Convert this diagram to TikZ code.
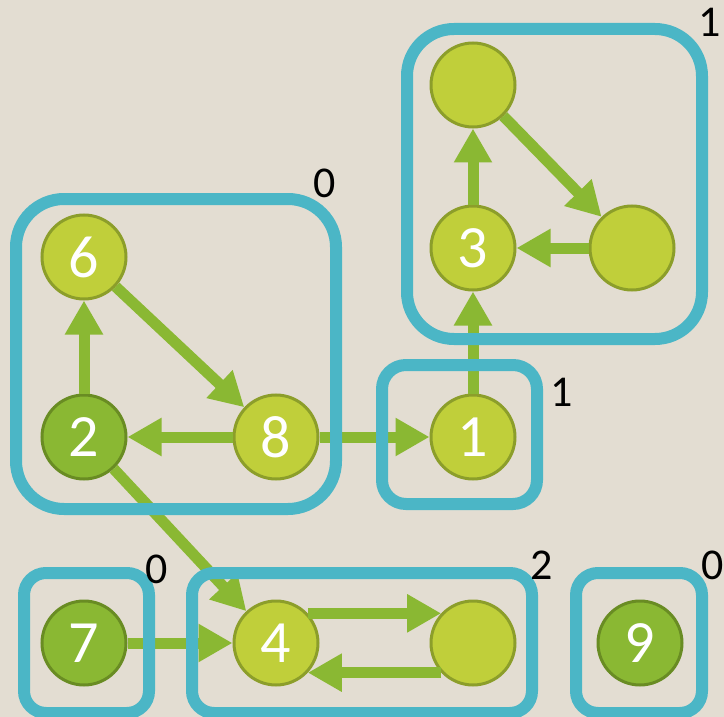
\documentclass[tikz,border=0pt]{standalone}
\usepackage{fontspec}
\setmainfont{Carlito}
\usetikzlibrary{arrows.meta,positioning}
\definecolor{bgbeige}{HTML}{E3DDD2}
\definecolor{boxcyan}{HTML}{4BB6C6}
\definecolor{lightleaf}{HTML}{C0CF3A}
\definecolor{lightrim}{HTML}{8C9E2A}
\definecolor{darkleaf}{HTML}{8AB833}
\definecolor{darkrim}{HTML}{698C23}
\definecolor{arrowgreen}{HTML}{8AB833}
\tikzset{
    vtx/.style = {
        draw=lightrim,
        fill=lightleaf,
        circle,
        line width=3pt,
        inner sep=0pt,
        minimum size=84pt,
        text=white,
        font=\fontsize{60}{64}\selectfont
    },
    vtxdark/.style = {
        vtx,
        draw=darkrim,
        fill=darkleaf
    },
    group/.style = {
        draw=boxcyan,
        rectangle,
        line width=12pt,
        inner sep=0pt
    },
    link/.style = {
        draw=arrowgreen,
        line width=11pt
    },
    lbl/.style = {
        inner sep=0pt,
        font=\fontsize{44}{48}\selectfont
    }
}
\begin{document}
\begin{tikzpicture}[auto, x=1pt, y=-1pt, >={Triangle[length=34pt,width=36pt]}]
            \useasboundingbox (0,0) rectangle (724,717);
            \fill [bgbeige] (0,0) rectangle (724,717);

            % nodes
            \node [vtxdark] (n2) at (84,437) {2};
            \node [vtx,above of=n2,node distance=180pt] (n6) {6};
            \node [vtx,right of=n2,node distance=192pt] (n8) {8};
            \node [vtx,right of=n8,node distance=197pt] (n1) {1};
            \node [vtx,above of=n1,node distance=189pt] (n3) {3};
            \node [vtx,above of=n3,node distance=163pt] (n3a) {};
            \node [vtx,right of=n3,node distance=159pt] (n3b) {};
            \node [vtxdark] (n7) at (84,643) {7};
            \node [vtx,right of=n7,node distance=192pt] (n4) {4};
            \node [vtx,right of=n4,node distance=197pt] (n4b) {};
            \node [vtxdark,right of=n4b,node distance=167pt] (n9) {9};

            % arrows
            \draw [link,->] (n2) -- (n6);
            \draw [link,->] (n6) -- (n8);
            \draw [link,->] (n8) -- (n2);
            \draw [link,->] (n8) -- (n1);
            \draw [link,->] (n1) -- (n3);
            \draw [link,->] (n3) -- (n3a);
            \draw [link,->] (n3a) -- (n3b);
            \draw [link,->] (n3b) -- (n3);
            \draw [link,->] (n2) -- (n4);
            \draw [link,->] (n7) -- (n4);
            \draw [link,->] (n4.43) -- (n4b.137);
            \draw [link,->] (n4b.-137) -- (n4.-43);

            % components
            \node [group,rounded corners=48pt,minimum width=320pt,minimum height=310pt] (boxA) at (176,354) {};
            \node [group,rounded corners=47pt,minimum width=295pt,minimum height=310pt] (boxB) at (554.5,184) {};
            \node [group,rounded corners=24pt,minimum width=155pt,minimum height=139pt] (boxC) at (459.5,434.5) {};
            \node [group,rounded corners=22pt,minimum width=125pt,minimum height=140pt] (boxD) at (86.5,643) {};
            \node [group,rounded corners=22pt,minimum width=340pt,minimum height=140pt] (boxE) at (362,643) {};
            \node [group,rounded corners=22pt,minimum width=126pt,minimum height=140pt] (boxF) at (639,643) {};

            % component labels
            \node [lbl] (labA) at (325,183) {0};
            \node [lbl] (labB) at (710,22) {1};
            \node [lbl] (labC) at (562,392) {1};
            \node [lbl] (labD) at (157,569) {0};
            \node [lbl] (labE) at (542,565) {2};
            \node [lbl] (labF) at (713,565) {0};
        \end{tikzpicture}
\end{document}
